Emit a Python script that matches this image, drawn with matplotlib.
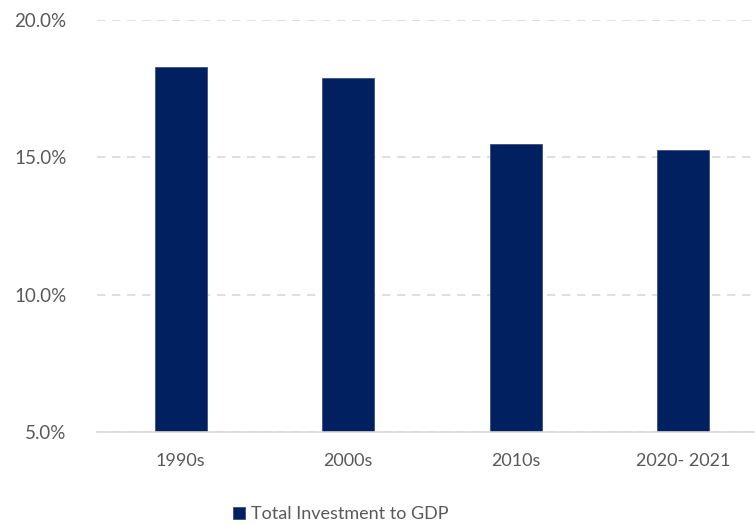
import matplotlib
matplotlib.use("Agg")
import matplotlib.pyplot as plt
from matplotlib.ticker import FuncFormatter

categories = ["1990s", "2000s", "2010s", "2020- 2021"]
values = [18.3, 17.9, 15.5, 15.25]
series_name = "Total Investment to GDP"
yticks = [5, 10, 15, 20]

plt.rcParams['font.family'] = ['Lato', 'DejaVu Sans']

fig = plt.figure(figsize=(7.55, 5.27), dpi=100)
ax = fig.add_axes([97/755, 1-432/527, (767-97)/755, (432-20)/527])

bar_color = "#002060"
ax.bar(range(len(categories)), values, width=0.31, color=bar_color,
       edgecolor="#3a4f85", linewidth=0.6, label=series_name, zorder=3)

ax.set_ylim(5, 20)
ax.set_xlim(-0.5, len(categories) - 0.5)
ax.set_yticks(yticks)
ax.yaxis.set_major_formatter(FuncFormatter(lambda v, p: f"{v:.1f}%"))
ax.set_xticks(range(len(categories)))
ax.set_xticklabels(categories)

ax.grid(axis='y', color="#d9d9d9", linestyle=(0, (5, 4)), linewidth=1.2, zorder=0)
for s in ["top", "right", "left"]:
    ax.spines[s].set_visible(False)
ax.spines["bottom"].set_color("#d9d9d9")
ax.spines["bottom"].set_linewidth(1.2)
ax.spines["bottom"].set_zorder(4)
ax.tick_params(axis='y', length=0, labelsize=13.5, labelcolor="#595959", pad=22)
ax.tick_params(axis='x', length=0, labelsize=13, labelcolor="#595959", pad=15)

fig.legend(loc="center", bbox_to_anchor=(341/755, 1-514/527), frameon=False,
           fontsize=13, labelcolor="#595959", handlelength=0.65, handleheight=0.65,
           handletextpad=0.35)

fig.savefig("out.png", dpi=100)
